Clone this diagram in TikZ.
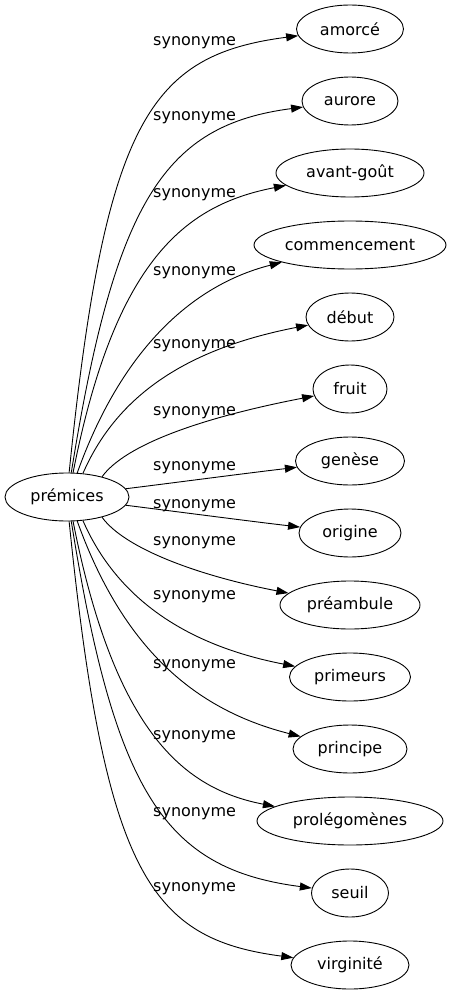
\documentclass[tikz,border=0pt]{standalone}
\usepackage{fontspec}
\setmainfont{DejaVu Sans}
\usetikzlibrary{arrows.meta,shapes.geometric}
\begin{document}
\begin{tikzpicture}[x=1pt,y=-1pt,
  word/.style={ellipse,draw,line width=0.9pt,inner sep=0pt,minimum height=48pt,font=\fontsize{16}{19}\selectfont},
  lbl/.style={anchor=base west,inner sep=0pt,font=\fontsize{16}{19}\selectfont},
  syn/.style={line width=0.9pt,-{Triangle[length=12pt,width=8pt]}}]
\useasboundingbox (0,0) rectangle (452,995);
\node[word,minimum width=124pt] (premices) at (67,497) {prémices};
\node[word,minimum width=107pt] (amorce) at (350,29) {amorcé};
\node[word,minimum width=96pt] (aurore) at (350,101) {aurore};
\node[word,minimum width=148pt] (avantgout) at (350,173) {avant-goût};
\node[word,minimum width=192pt] (commencement) at (350,245) {commencement};
\node[word,minimum width=88pt] (debut) at (350,317) {début};
\node[word,minimum width=74pt] (fruit) at (350,389) {fruit};
\node[word,minimum width=109pt] (genese) at (350,461) {genèse};
\node[word,minimum width=102pt] (origine) at (350,533) {origine};
\node[word,minimum width=140pt] (preambule) at (350,605) {préambule};
\node[word,minimum width=121pt] (primeurs) at (350,677) {primeurs};
\node[word,minimum width=114pt] (principe) at (350,749) {principe};
\node[word,minimum width=186pt] (prolegomenes) at (350,821) {prolégomènes};
\node[word,minimum width=77pt] (seuil) at (350,893) {seuil};
\node[word,minimum width=118pt] (virginite) at (350,965) {virginité};

\draw[syn] (premices.85) .. controls (105,120) and (150,55) .. (amorce);
\draw[syn] (premices.80) .. controls (115,200) and (165,125) .. (aurore);
\draw[syn] (premices.76) .. controls (115,260) and (185,205) .. (avantgout);
\draw[syn] (premices.67) .. controls (125,340) and (200,283) .. (commencement);
\draw[syn] (premices.56) .. controls (115,400) and (180,350) .. (debut);
\draw[syn] (premices.30) .. controls (125,445) and (200,418) .. (fruit);
\draw[syn] (premices.8) .. controls (180,482) and (240,474) .. (genese);
\draw[syn] (premices.-8) .. controls (180,512) and (240,520) .. (origine);
\draw[syn] (premices.-30) .. controls (125,549) and (200,576) .. (preambule);
\draw[syn] (premices.-56) .. controls (115,594) and (180,644) .. (primeurs);
\draw[syn] (premices.-67) .. controls (125,654) and (200,711) .. (principe);
\draw[syn] (premices.-76) .. controls (115,734) and (185,789) .. (prolegomenes);
\draw[syn] (premices.-80) .. controls (115,794) and (165,869) .. (seuil);
\draw[syn] (premices.-85) .. controls (105,874) and (150,939) .. (virginite);

\node[lbl] (l1) at (153,46) {synonyme};
\node[lbl] (l2) at (153,121) {synonyme};
\node[lbl] (l3) at (153,197) {synonyme};
\node[lbl] (l4) at (153,275) {synonyme};
\node[lbl] (l5) at (153,348) {synonyme};
\node[lbl] (l6) at (153,415) {synonyme};
\node[lbl] (l7) at (153,470.5) {synonyme};
\node[lbl] (l8) at (153,508) {synonyme};
\node[lbl] (l9) at (153,545) {synonyme};
\node[lbl] (l10) at (153,599.5) {synonyme};
\node[lbl] (l11) at (153,668) {synonyme};
\node[lbl] (l12) at (153,739.5) {synonyme};
\node[lbl] (l13) at (153,816) {synonyme};
\node[lbl] (l14) at (153,891) {synonyme};
\end{tikzpicture}
\end{document}
